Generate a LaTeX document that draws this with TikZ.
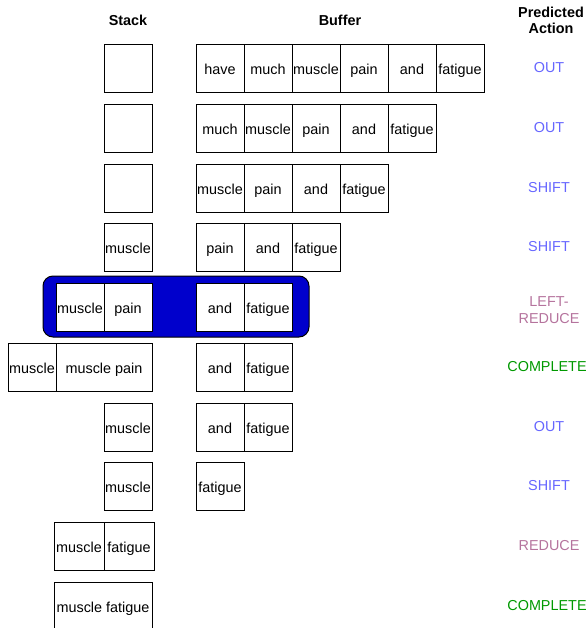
\documentclass[tikz,border=0pt]{standalone}
\usepackage{fontspec}
\setmainfont{Liberation Sans}
\definecolor{actblue}{HTML}{6666FF}
\definecolor{actpink}{HTML}{B5739D}
\definecolor{actgreen}{HTML}{009900}
\definecolor{hlblue}{HTML}{0000CC}
\begin{document}
\begin{tikzpicture}[x=0.75pt,y=-0.75pt,
  every node/.style={font=\fontsize{10.8pt}{12.5pt}\selectfont},
  cell/.style={draw=black,line width=0.75pt,fill=white,minimum width=36pt,minimum height=36pt,inner sep=0pt,text height=10.6pt,text depth=1pt},
  wcell/.style={cell,minimum width=72pt},
  head/.style={font=\fontsize{10.8pt}{11.5pt}\selectfont\bfseries,align=center},
  act/.style={align=center}]
\useasboundingbox (0,0) rectangle (587,628);
% headers
\node[head] (hstack) at (128,20) {Stack};
\node[head] (hbuf) at (340,20) {Buffer};
\node[head] (hact) at (551,20.5) {Predicted\\Action};
% highlight
\draw[fill=hlblue,draw=black,line width=0.75pt,rounded corners=7.5pt] (43,276) rectangle (309,337);
% row 1
\node[cell] (s1) at (128,68) {};
\node[cell] (b1a) at (220,68) {have};
\node[cell] (b1b) at (268,68) {much};
\node[cell] (b1c) at (316,68) {muscle};
\node[cell] (b1d) at (364,68) {pain};
\node[cell] (b1e) at (412,68) {and};
\node[cell] (b1f) at (460,68) {fatigue};
\node[act,text=actblue] (a1) at (549,68) {OUT};
% row 2
\node[cell] (s2) at (128,128) {};
\node[cell] (b2a) at (220,128) {much};
\node[cell] (b2b) at (268,128) {muscle};
\node[cell] (b2c) at (316,128) {pain};
\node[cell] (b2d) at (364,128) {and};
\node[cell] (b2e) at (412,128) {fatigue};
\node[act,text=actblue] (a2) at (549,128) {OUT};
% row 3
\node[cell] (s3) at (128,188) {};
\node[cell] (b3a) at (220,188) {muscle};
\node[cell] (b3b) at (268,188) {pain};
\node[cell] (b3c) at (316,188) {and};
\node[cell] (b3d) at (364,188) {fatigue};
\node[act,text=actblue] (a3) at (549,188) {SHIFT};
% row 4
\node[cell] (s4) at (128,247) {muscle};
\node[cell] (b4a) at (220,247) {pain};
\node[cell] (b4b) at (268,247) {and};
\node[cell] (b4c) at (316,247) {fatigue};
\node[act,text=actblue] (a4) at (549,247) {SHIFT};
% row 5
\node[cell] (s5a) at (80,307) {muscle};
\node[cell] (s5b) at (128,307) {pain};
\node[cell] (b5a) at (220,307) {and};
\node[cell] (b5b) at (268,307) {fatigue};
\node[act,text=actpink] (a5) at (549,310) {LEFT-\\REDUCE};
% row 6
\node[cell] (s6a) at (32,367) {muscle};
\node[wcell] (s6b) at (104,367) {muscle pain};
\node[cell] (b6a) at (220,367) {and};
\node[cell] (b6b) at (268,367) {fatigue};
\node[act,text=actgreen] (a6) at (547,367) {COMPLETE};
% row 7
\node[cell] (s7) at (128,427) {muscle};
\node[cell] (b7a) at (220,427) {and};
\node[cell] (b7b) at (268,427) {fatigue};
\node[act,text=actblue] (a7) at (549,427) {OUT};
% row 8
\node[cell] (s8) at (128,486) {muscle};
\node[cell] (b8a) at (220,486) {fatigue};
\node[act,text=actblue] (a8) at (549,486) {SHIFT};
% row 9
\node[cell,minimum width=37.5pt] (s9a) at (79,546) {muscle};
\node[cell,minimum width=37.5pt] (s9b) at (129,546) {fatigue};
\node[act,text=actpink] (a9) at (549,546) {REDUCE};
% row 10
\node[cell,minimum width=73.5pt] (s10) at (103,606) {muscle fatigue};
\node[act,text=actgreen] (a10) at (547,606) {COMPLETE};
\end{tikzpicture}
\end{document}
